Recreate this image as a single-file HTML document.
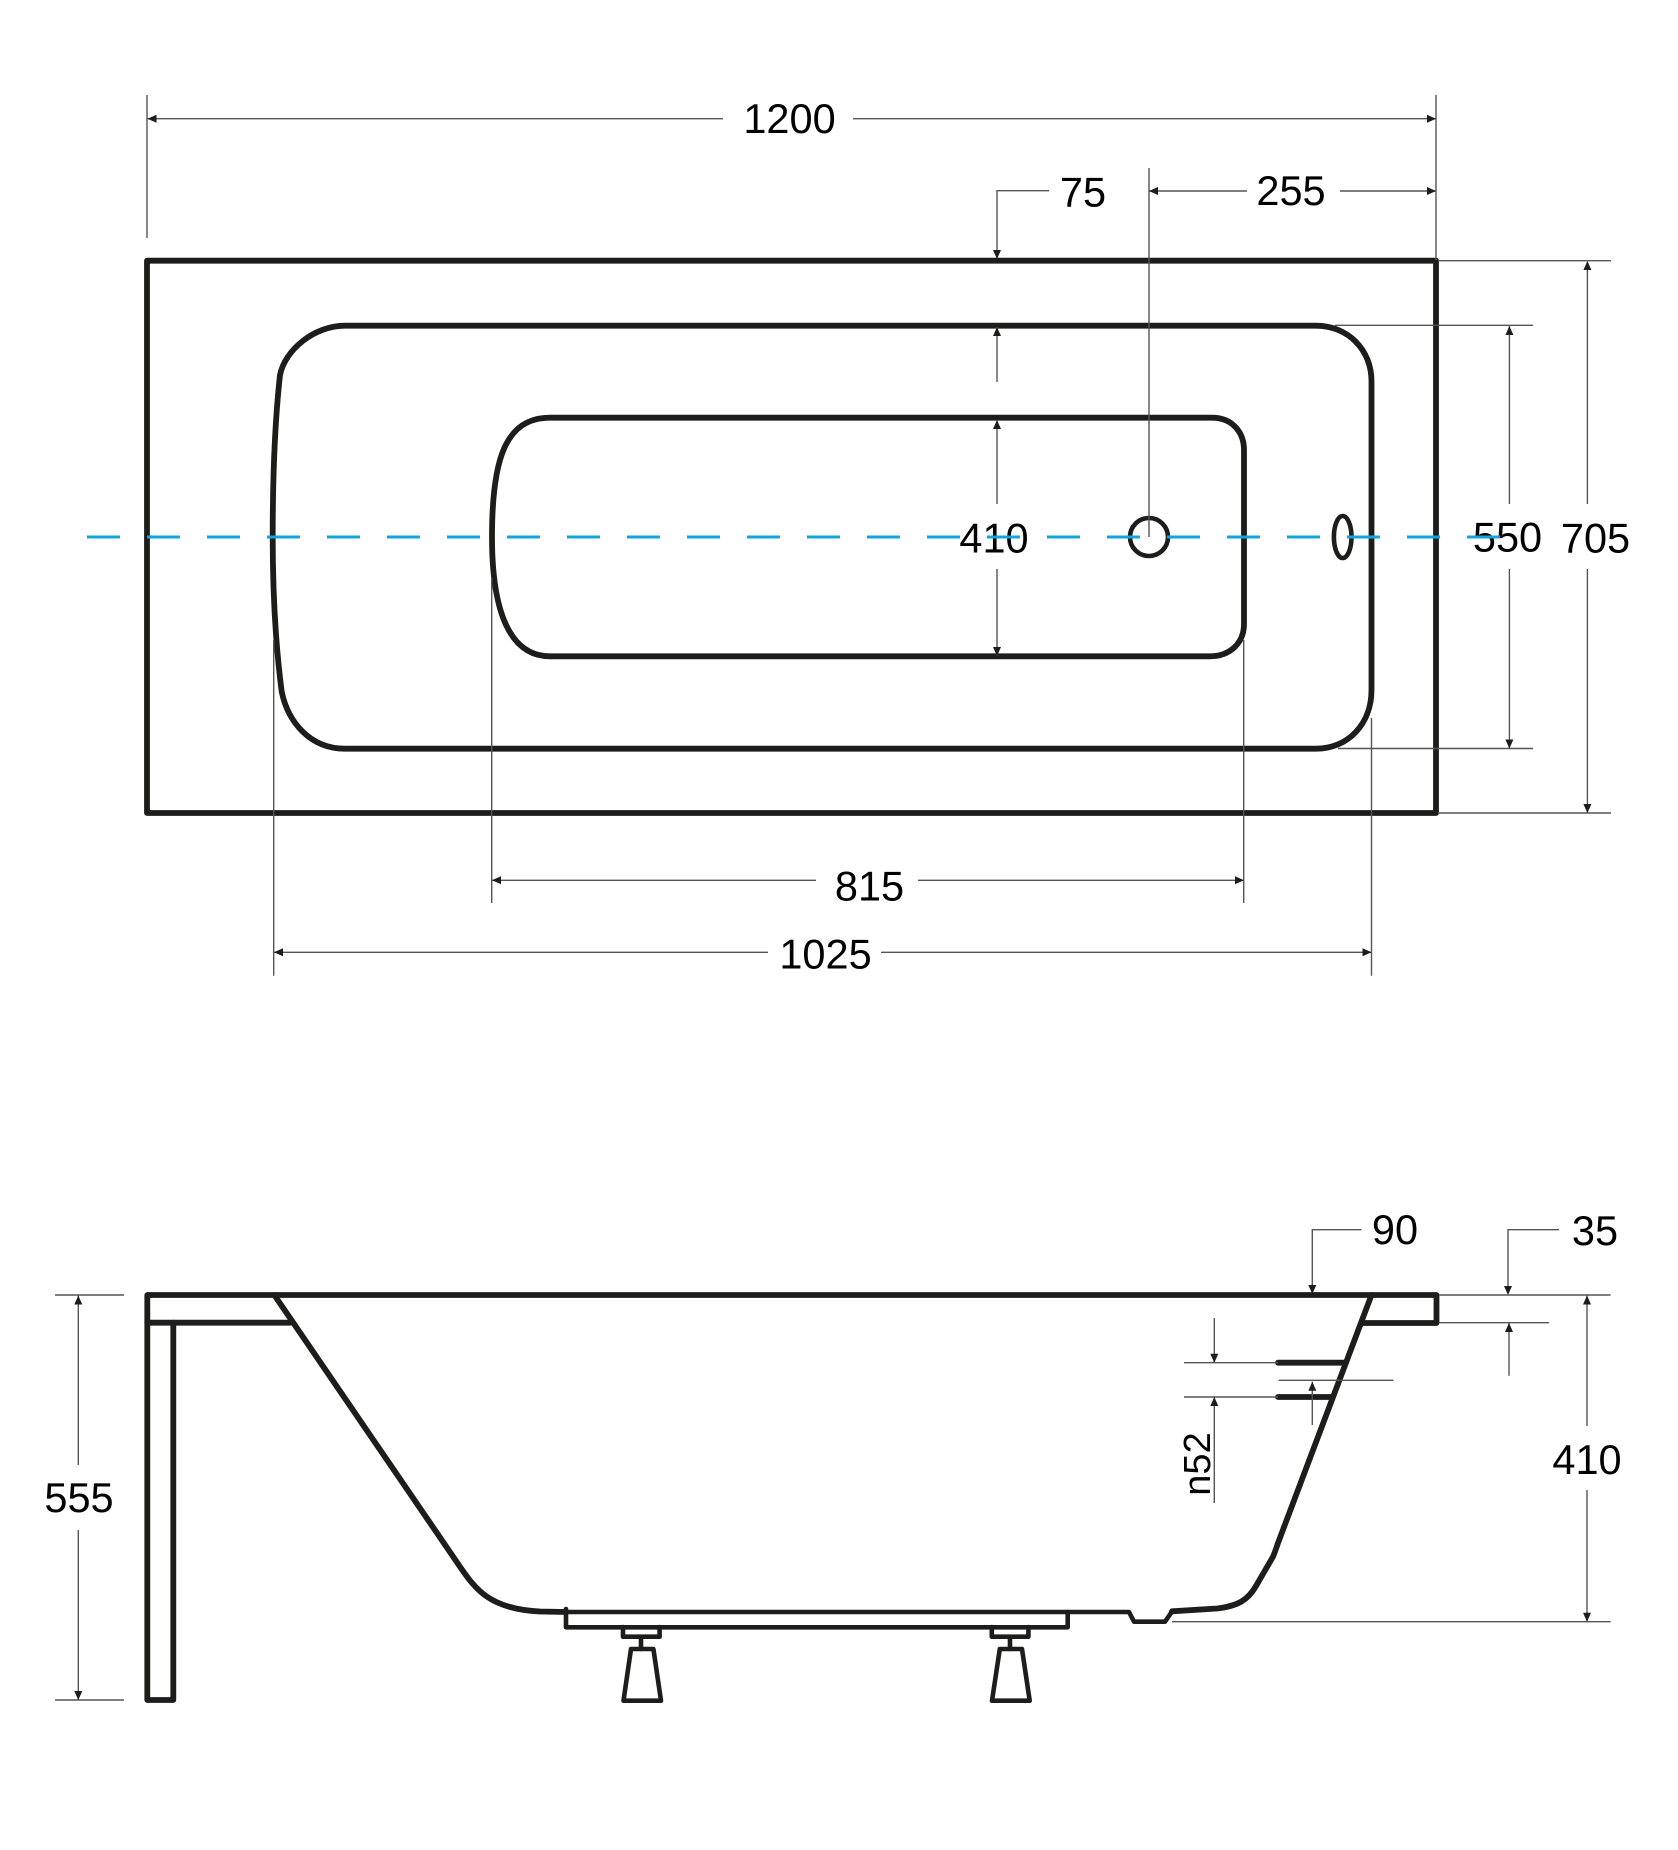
<!DOCTYPE html>
<html><head><meta charset="utf-8"><style>
html,body{margin:0;padding:0;background:#fff}
svg{display:block}
text{font-family:"Liberation Sans",sans-serif;font-size:41.5px;fill:#000}
.t{fill:none;stroke:#1d1d1b;stroke-width:5.8;stroke-linejoin:round;stroke-linecap:round}
.m{fill:none;stroke:#1d1d1b;stroke-width:4.6;stroke-linejoin:round;stroke-linecap:round}
.l{fill:none;stroke:#555;stroke-width:1.4}
.a{fill:#1d1d1b;stroke:none}
</style></head><body>
<svg width="1678" height="1850" viewBox="0 0 1678 1850" xmlns="http://www.w3.org/2000/svg">
<rect width="1678" height="1850" fill="#fff"/>

<!-- TOP VIEW shapes -->
<rect class="t" x="147" y="260.7" width="1289" height="552.3"/>
<path class="t" d="M345,325.7 H1316 C1348,325.7 1371.5,350 1371.5,381 V690 C1371.5,724 1348,748.7 1316,748.7 H345 C310,748.7 288,722 281.7,691.7 C275,640 272.7,590 272.7,537 C272.7,470 275,420 280,375 C285,350 314,325.7 345,325.7 Z"/>
<path class="t" d="M550,417.7 H1212 C1232,417.7 1244,432 1244,450 V624 C1244,643 1230,656.3 1210,656.3 H550 C510,656.3 492,612 492,537 C492,460 505,417.7 550,417.7 Z"/>
<circle class="m" cx="1149" cy="537" r="19"/>
<ellipse class="m" cx="1342.7" cy="537" rx="8.8" ry="21"/>

<!-- top dim lines -->
<path class="l" d="M147,95 V238 M1436,95 V260 M147,118.7 H723 M853,118.7 H1436
M1149,168 V537 M1149,191 H1247 M1340,191 H1436
M997,258 V190.7 H1049
M997,327 V382 M997,420 V504 M997,569 V656
M1438,260.7 H1611 M1335,325.3 H1533 M1338,748.5 H1533 M1438,813 H1611
M1509.4,326 V504 M1509.4,569 V748 M1587.4,262 V504 M1587.4,569 V813
M273.7,640 V975.7 M491.7,578 V903 M1243.7,640 V903 M1371.5,718 V975.7
M492,880.3 H816 M918,880.3 H1244 M274,952.3 H768 M881,952.3 H1371.5"/>

<!-- top arrows -->
<g class="a">
<path d="M147.5,118.7 l9,-4 v8z"/><path d="M1436,118.7 l-9,-4 v8z"/>
<path d="M1149,191 l9,-4 v8z"/><path d="M1436,191 l-9,-4 v8z"/>
<path d="M997,259 l-4,-9 h8z"/><path d="M997,327 l-4,9 h8z"/>
<path d="M997,420 l-4,9 h8z"/><path d="M997,656 l-4,-9 h8z"/>
<path d="M1509.4,326 l-4,9 h8z"/><path d="M1509.4,748.5 l-4,-9 h8z"/>
<path d="M1587.4,261 l-4,9 h8z"/><path d="M1587.4,813 l-4,-9 h8z"/>
<path d="M492,880.3 l9,-4 v8z"/><path d="M1244,880.3 l-9,-4 v8z"/>
<path d="M274,952.3 l9,-4 v8z"/><path d="M1371.5,952.3 l-9,-4 v8z"/>
</g>

<!-- top labels -->
<text x="789.5" y="133" text-anchor="middle">1200</text>
<text x="1083" y="206.5" text-anchor="middle">75</text>
<text x="1291" y="205" text-anchor="middle">255</text>
<text x="994" y="552.5" text-anchor="middle">410</text>
<text x="1507.5" y="551.5" text-anchor="middle">550</text>
<text x="1595.5" y="552.5" text-anchor="middle">705</text>
<text x="869.5" y="900.5" text-anchor="middle">815</text>
<text x="825.5" y="968.5" text-anchor="middle">1025</text>

<!-- center dashed line -->
<path d="M87,537 H1500" fill="none" stroke="#12a3e0" stroke-width="3" stroke-dasharray="33 27"/>

<!-- SIDE VIEW shapes -->
<path class="t" d="M173.3,1322.7 V1700 H147.3 V1295 H1436.5 V1323 H1363"/>
<path class="t" d="M147.3,1322.7 H290"/>
<path class="t" d="M274.3,1295 L460,1566.7 C476,1590 490,1609 540,1611.5 L566,1612"/>
<path class="m" d="M550,1612 H1129 L1134,1621.7 H1165 L1172,1611.5" stroke-width="5"/>
<path class="t" d="M1371.5,1295 L1278,1543 Q1275,1552 1273,1556.7 L1256,1586 C1248,1600 1238,1606 1217,1608.5 L1172,1611.3"/>
<path class="t" d="M1278,1362.7 H1343.6 M1278,1397 H1331"/>
<path class="m" d="M566,1609 V1627.3 H1067.7 V1612"/>
<!-- feet -->
<path class="m" d="M623,1627 V1636.7 H659.6 V1627"/>
<path class="m" d="M641,1637 V1649" stroke-width="6"/>
<path class="m" d="M631,1649 H653.4 L661,1700.7 H623.5 Z"/>
<path class="m" d="M991.8,1627 V1636.7 H1028.4 V1627"/>
<path class="m" d="M1010,1637 V1649" stroke-width="6"/>
<path class="m" d="M999.8,1649 H1022 L1029.7,1700.7 H992 Z"/>

<!-- side dim lines -->
<path class="l" d="M55,1295 H124 M55,1700 H124 M78.3,1295 V1465 M78.3,1530 V1700
M1312.3,1293 V1229.7 H1361.5 M1508,1293 V1229.7 H1559
M1439,1295 H1610.6 M1439,1322.7 H1549 M1172,1621.7 H1610.6
M1509,1323 V1375.7 M1587,1295 V1426 M1587,1490 V1621.7
M1184,1362.7 H1278 M1184,1397 H1278 M1278.6,1380.3 H1393.4
M1214.3,1318 V1362 M1214.3,1397 V1503 M1312.3,1381.7 V1425"/>

<!-- side arrows -->
<g class="a">
<path d="M78.3,1295.5 l-4,9 h8z"/><path d="M78.3,1700 l-4,-9 h8z"/>
<path d="M1312.3,1294 l-4,-9 h8z"/><path d="M1508,1295 l-4,-9 h8z"/>
<path d="M1509,1323 l-4,9 h8z"/>
<path d="M1587,1295.5 l-4,9 h8z"/><path d="M1587,1621.7 l-4,-9 h8z"/>
<path d="M1214.3,1362.7 l-4,-9 h8z"/><path d="M1214.3,1397 l-4,9 h8z"/>
<path d="M1312.3,1381.7 l-4,9 h8z"/>
</g>

<!-- side labels -->
<text x="79" y="1512" text-anchor="middle">555</text>
<text x="1395" y="1244" text-anchor="middle">90</text>
<text x="1595" y="1245" text-anchor="middle">35</text>
<text x="1587" y="1474" text-anchor="middle">410</text>
<text transform="translate(1210,1464) rotate(-90)" text-anchor="middle" style="font-size:38px">n52</text>
</svg>
</body></html>
